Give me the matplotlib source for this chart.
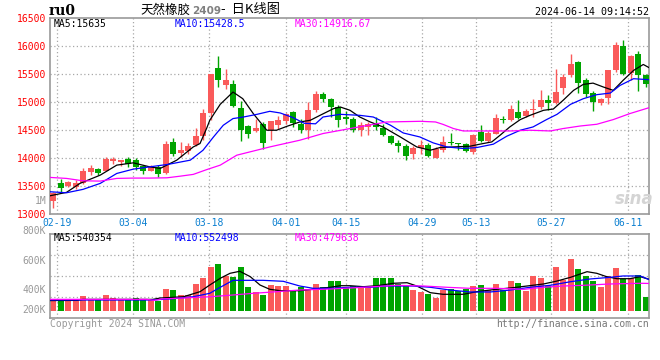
import numpy as np
import matplotlib
matplotlib.use('Agg')
import matplotlib.pyplot as plt

plt.rcParams['font.family'] = ['DejaVu Sans Mono', 'Noto Sans CJK SC']

# daily candles (index 0 = 02-08)
opens = [13232, 13548, 13500, 13482, 13554, 13745, 13798, 13768, 13940, 13923,
         13982, 13958, 13851, 13768, 13829, 13727, 14286, 14096, 14120, 14227,
         14388, 14804, 15602, 15304, 15321, 14900, 14566, 14482, 14602, 14507,
         14589, 14655, 14821, 14614, 14507, 14852, 15137, 15048, 14911, 14727,
         14704, 14507, 14554, 14614, 14543, 14388, 14268, 14209, 14066, 14168,
         14227, 13995, 14137, 14286, 14257, 14245, 14107, 14464, 14304, 14436,
         14704, 14673, 14821, 14745, 14852, 14911, 15030, 14982, 15257, 15482,
         15709, 15400, 15161, 14982, 15071, 15579, 16000, 15518, 15852, 15477]
closes = [13364, 13464, 13561, 13543, 13763, 13816, 13727, 13982, 13976, 13958,
          13899, 13839, 13768, 13839, 13714, 14245, 14066, 14140, 14209, 14388,
          14804, 15495, 15400, 15388, 14936, 14495, 14429, 14530, 14275, 14655,
          14673, 14786, 14632, 14495, 14852, 15137, 15048, 14911, 14673, 14700,
          14507, 14584, 14602, 14554, 14405, 14268, 14214, 14030, 14185, 14227,
          14036, 14150, 14286, 14260, 14245, 14125, 14405, 14304, 14446, 14714,
          14680, 14870, 14714, 14839, 14870, 15030, 14975, 15173, 15446, 15673,
          15339, 15150, 15000, 15048, 15566, 16030, 15507, 15821, 15477, 15330]
highs = [13380, 13620, 13584, 13597, 13821, 13875, 13810, 14012, 14018, 13970,
         14010, 13990, 13870, 13870, 13880, 14298, 14357, 14280, 14275, 14542,
         14870, 15500, 15816, 15584, 15400, 15025, 14590, 14704, 14650, 14665,
         14745, 14800, 14840, 14704, 15000, 15196, 15178, 15080, 14940, 14839,
         14730, 14640, 14640, 14732, 14600, 14410, 14329, 14250, 14220, 14316,
         14270, 14200, 14393, 14446, 14270, 14270, 14420, 14584, 14480, 14780,
         14750, 14953, 15043, 14880, 15050, 15209, 15120, 15600, 15500, 15864,
         15740, 15430, 15190, 15080, 15580, 16071, 16120, 15840, 15923, 15500]
lows = [13107, 13393, 13480, 13446, 13540, 13693, 13690, 13760, 13899, 13860,
        13830, 13780, 13710, 13760, 13660, 13720, 14030, 14010, 14078, 14209,
        14329, 14673, 15268, 15239, 14920, 14304, 14357, 14470, 14161, 14316,
        14510, 14600, 14560, 14440, 14346, 14830, 15000, 14732, 14554, 14614,
        14464, 14393, 14410, 14500, 14390, 14250, 14107, 13959, 13971, 14078,
        14010, 13990, 14107, 14227, 14140, 14110, 14066, 14290, 14290, 14420,
        14620, 14660, 14700, 14730, 14740, 14880, 14852, 14970, 15150, 15440,
        15161, 15089, 14839, 14940, 14970, 15536, 15477, 15388, 15196, 15268]
volumes_k = [202, 172, 172, 184, 253, 184, 184, 271, 219, 184,
             184, 219, 196, 184, 172, 374, 357, 271, 271, 460,
             564, 754, 805, 598, 581, 754, 409, 322, 271, 443,
             431, 426, 340, 403, 380, 460, 409, 512, 512, 403,
             426, 414, 414, 564, 564, 564, 460, 443, 357, 322,
             288, 219, 357, 369, 340, 369, 426, 443, 357, 460,
             357, 512, 478, 340, 598, 564, 426, 754, 530, 892,
             719, 598, 512, 409, 598, 737, 547, 564, 616, 236]

# moving average lines as drawn (x = candle index)
price_ma5_at = [-0.4, 1.8, 3.6, 6.3, 8.5, 10.7, 12.9, 14.3, 16.5, 18.7, 19.6, 20.5, 20.9,
                22.3, 24.0, 25.3, 26.7, 28.5, 29.8, 31.2, 32.9, 34.3, 35.6, 37.4, 38.3,
                39.6, 40.9, 42.3, 44.0, 46.3, 48.5, 50.3, 51.6, 53.4, 55.6, 56.9, 58.5,
                59.6, 60.9, 62.3, 63.6, 65.4, 66.7, 68.0, 69.4, 70.7, 72.0, 73.4, 74.7,
                76.0, 77.4, 78.7, 79.5]
price_ma5 = [13321, 13382, 13543, 13691, 13870, 13911, 13839, 13811, 13959, 14196, 14257, 14535,
             14673, 14960, 15179, 15060, 14793, 14495, 14495, 14566, 14643, 14673, 14762, 14882,
             14911, 14852, 14732, 14643, 14554, 14375, 14196, 14137, 14185, 14196, 14209, 14245,
             14286, 14405, 14554, 14686, 14762, 14852, 14875, 15030, 15209, 15316, 15339, 15268,
             15209, 15388, 15566, 15673, 15614]
price_ma10_at = [-0.4, 1.8, 4.0, 6.3, 8.5, 10.7, 12.9, 15.4, 18.3, 20.0, 21.4, 22.7, 24.0,
                 25.4, 27.2, 28.9, 30.3, 32.0, 33.5, 35.0, 36.0, 38.3, 40.9, 42.7, 45.0, 46.7,
                 48.9, 50.7, 52.5, 54.7, 56.5, 58.7, 60.5, 62.3, 64.0, 65.8, 67.2, 69.0, 70.7,
                 72.5, 74.3, 75.6, 77.4, 79.5]
price_ma10 = [13393, 13375, 13436, 13543, 13721, 13798, 13839, 13885, 13959, 14137, 14375, 14584,
              14704, 14732, 14780, 14834, 14804, 14721, 14620, 14610, 14732, 14780, 14762, 14732,
              14584, 14446, 14375, 14268, 14196, 14168, 14185, 14245, 14388, 14495, 14554, 14686,
              14780, 14959, 15060, 15132, 15161, 15298, 15418, 15400]
price_ma30_at = [-0.4, 1.8, 4.0, 6.3, 8.5, 10.7, 12.9, 15.2, 17.0, 18.7, 20.5, 22.3, 24.5,
                 28.9, 32.9, 36.0, 39.6, 44.5, 49.0, 51.0, 52.0, 53.4, 54.7, 61.0, 63.6, 66.3,
                 68.0, 70.3, 72.5, 74.7, 76.9, 79.5]
price_ma30 = [13650, 13632, 13589, 13584, 13632, 13638, 13638, 13643, 13673, 13704, 13790, 13870,
              14048, 14196, 14316, 14436, 14525, 14643, 14655, 14643, 14600, 14525, 14482, 14482,
              14495, 14482, 14525, 14571, 14602, 14686, 14793, 14900]

vol_ma5_at = [-0.4, 3.2, 4.0, 13.3, 14.3, 17.4, 19.6, 20.9, 22.3, 23.6, 24.9, 26.3, 27.6, 28.9,
              30.3, 32.9, 35.6, 37.0, 38.3, 39.6, 41.4, 43.2, 45.4, 47.2, 48.5, 50.3, 52.0,
              54.7, 56.5, 58.3, 61.8, 65.4, 67.2, 69.0, 71.2, 72.5, 73.8, 75.2, 76.9, 78.3, 79.5]
vol_ma5_k = [175, 178, 195, 195, 219, 241, 328, 443, 559, 645, 680, 587, 443, 369, 345, 345,
             386, 404, 431, 431, 414, 431, 473, 483, 426, 311, 283, 283, 328, 357, 404, 461,
             512, 576, 673, 645, 587, 552, 552, 587, 540]
vol_ma10_at = [-0.4, 13.3, 16.0, 18.7, 20.9, 22.3, 24.0, 28.0, 30.7, 32.9, 34.7, 37.0, 39.6,
               42.3, 44.5, 48.0, 50.3, 52.9, 55.6, 58.3, 61.0, 63.6, 66.3, 69.0, 71.6, 74.3,
               76.0, 78.3, 79.5]
vol_ma10_k = [185, 185, 207, 241, 300, 404, 524, 524, 507, 426, 386, 386, 404, 404, 426, 426,
              404, 357, 323, 323, 357, 404, 438, 500, 547, 576, 599, 599, 535]
vol_ma30_at = [-0.4, 12.5, 13.5, 14.5, 21.0, 24.0, 26.7, 29.3, 32.9, 37.0, 41.4, 45.8, 49.4,
               52.5, 55.6, 59.2, 62.8, 65.4, 68.0, 70.7, 74.3, 78.3, 79.5]
vol_ma30_k = [196, 196, 179, 202, 241, 271, 300, 323, 357, 374, 404, 438, 426, 404, 386, 386,
              369, 404, 426, 438, 461, 473, 470]

date_labels = ['02-19', '03-04', '03-18', '04-01', '04-15', '04-29', '05-13', '05-27', '06-11']
date_pos = [0.57, 10.71, 20.84, 31.03, 39.03, 49.24, 56.36, 66.4, 76.63]
price_ticks = [13000, 13500, 14000, 14500, 15000, 15500, 16000, 16500]
vol_tick_labels = ['800K', '600K', '400K', '200K']
price_ma_text = ['MA5:15635', 'MA10:15428.5', 'MA30:14916.67']
vol_ma_text = ['MA5:540354', 'MA10:552498', 'MA30:479638']

RED = '#fa5a5a'
GREEN = '#00a400'
MA_COLORS = ['black', '#0000ff', '#ff00ff']
GRID = '#a8a8a8'
FRAME = '#999999'

W, H = 660, 360


def fx(px):
    return px / W


def fy(py):
    return 1 - py / H


fig = plt.figure(figsize=(6.6, 3.6), dpi=100)
ax = fig.add_axes([fx(50), fy(213.7), (649.3 - 50) / W, (213.7 - 18.3) / H])
axv = fig.add_axes([fx(50), fy(318.3), (649.3 - 50) / W, (318.3 - 234) / H])

idx = np.arange(len(opens))
o = np.array(opens)
c = np.array(closes)
colors = [RED if cc >= oo else GREEN for oo, cc in zip(o, c)]

# price panel
for y in price_ticks[1:-1]:
    ax.axhline(y, color=GRID, lw=0.9, ls=(0, (1, 2)), zorder=0)
for p in date_pos:
    ax.axvline(p, color=GRID, lw=0.9, ls=(0, (1, 2)), zorder=0)
    axv.axvline(p, color=GRID, lw=0.9, ls=(0, (1, 2)), zorder=0)

ax.vlines(idx, lows, highs, colors=colors, lw=1, zorder=2)
body_bottom = np.minimum(o, c)
body_h = np.maximum(np.abs(c - o), 18)
ax.bar(idx, body_h, bottom=body_bottom, width=0.8, color=colors, linewidth=0, zorder=3)

ax.plot(price_ma5_at, price_ma5, color=MA_COLORS[0], lw=0.9, zorder=4)
ax.plot(price_ma10_at, price_ma10, color=MA_COLORS[1], lw=0.9, zorder=4)
ax.plot(price_ma30_at, price_ma30, color=MA_COLORS[2], lw=0.9, zorder=4)

ax.set_xlim(-0.4, 79.5)
ax.set_ylim(13000, 16500)
ax.set_yticks(price_ticks)
ax.set_yticklabels([str(t) for t in price_ticks], color='#ff0000', fontsize=7)
ax.set_xticks(date_pos)
ax.set_xticklabels(date_labels, color='#0a7fd0', fontsize=7)
ax.tick_params(length=0, pad=3)

# volume panel
for f in [0.25, 0.5, 0.75]:
    axv.plot([0, 1], [f, f], transform=axv.transAxes, color=GRID, lw=0.9, ls=(0, (1, 2)), zorder=0)
axv.bar(idx, np.array(volumes_k) * 1000, width=0.8, color=colors, linewidth=0, zorder=2)
axv.plot(vol_ma5_at, np.array(vol_ma5_k) * 1000, color=MA_COLORS[0], lw=0.9, zorder=4)
axv.plot(vol_ma10_at, np.array(vol_ma10_k) * 1000, color=MA_COLORS[1], lw=0.9, zorder=4)
axv.plot(vol_ma30_at, np.array(vol_ma30_k) * 1000, color=MA_COLORS[2], lw=0.9, zorder=4)
axv.set_xlim(-0.4, 79.5)
axv.set_ylim(-131e3, 1323e3)
axv.set_xticks([])
axv.set_yticks([])
for lab, f in zip(vol_tick_labels, [1.039, 0.679, 0.335, 0.098]):
    axv.text(-0.007, f, lab, transform=axv.transAxes, ha='right', va='center',
             color='#999999', fontsize=7)

for a in (ax, axv):
    for s in a.spines.values():
        s.set_color(FRAME)
        s.set_linewidth(1.2)

# legends
for txt, col, x in zip(price_ma_text, MA_COLORS, [54, 175, 295]):
    fig.text(fx(x), fy(24), txt, color=col, fontsize=7, va='center')
for txt, col, x in zip(vol_ma_text, MA_COLORS, [54, 175, 295]):
    fig.text(fx(x), fy(238), txt, color=col, fontsize=7, va='center')

# titles and footers
fig.text(fx(49), fy(11), 'ru0', family='DejaVu Serif', fontweight='bold', fontsize=10, va='center')
fig.text(fx(140), fy(10), '天然橡胶', family=['Noto Sans CJK SC'], fontsize=9, va='center')
fig.text(fx(192), fy(11), '2409', family='DejaVu Sans', color='#808080', fontweight='bold',
         fontsize=7.5, va='center')
fig.text(fx(221), fy(10), '-  日K线图', family=['Noto Sans CJK SC'], fontsize=9.5, va='center')
fig.text(fx(649.3), fy(12), '2024-06-14 09:14:52', ha='right', va='center', fontsize=7.2)
fig.text(fx(46.5), fy(200.5), '1M', ha='right', va='center', color='#999999', fontsize=7)
fig.text(fx(634), fy(199), 'sina', family='DejaVu Sans', style='italic', fontweight='bold',
         color='#d4d4d4', fontsize=12, ha='center', va='center')
fig.text(fx(50), fy(324), 'Copyright 2024 SINA.COM', color='#999999', fontsize=7, va='center')
fig.text(fx(649.3), fy(324), 'http://finance.sina.com.cn', color='#777777', fontsize=7,
         ha='right', va='center')

fig.savefig('out.png', dpi=100)
